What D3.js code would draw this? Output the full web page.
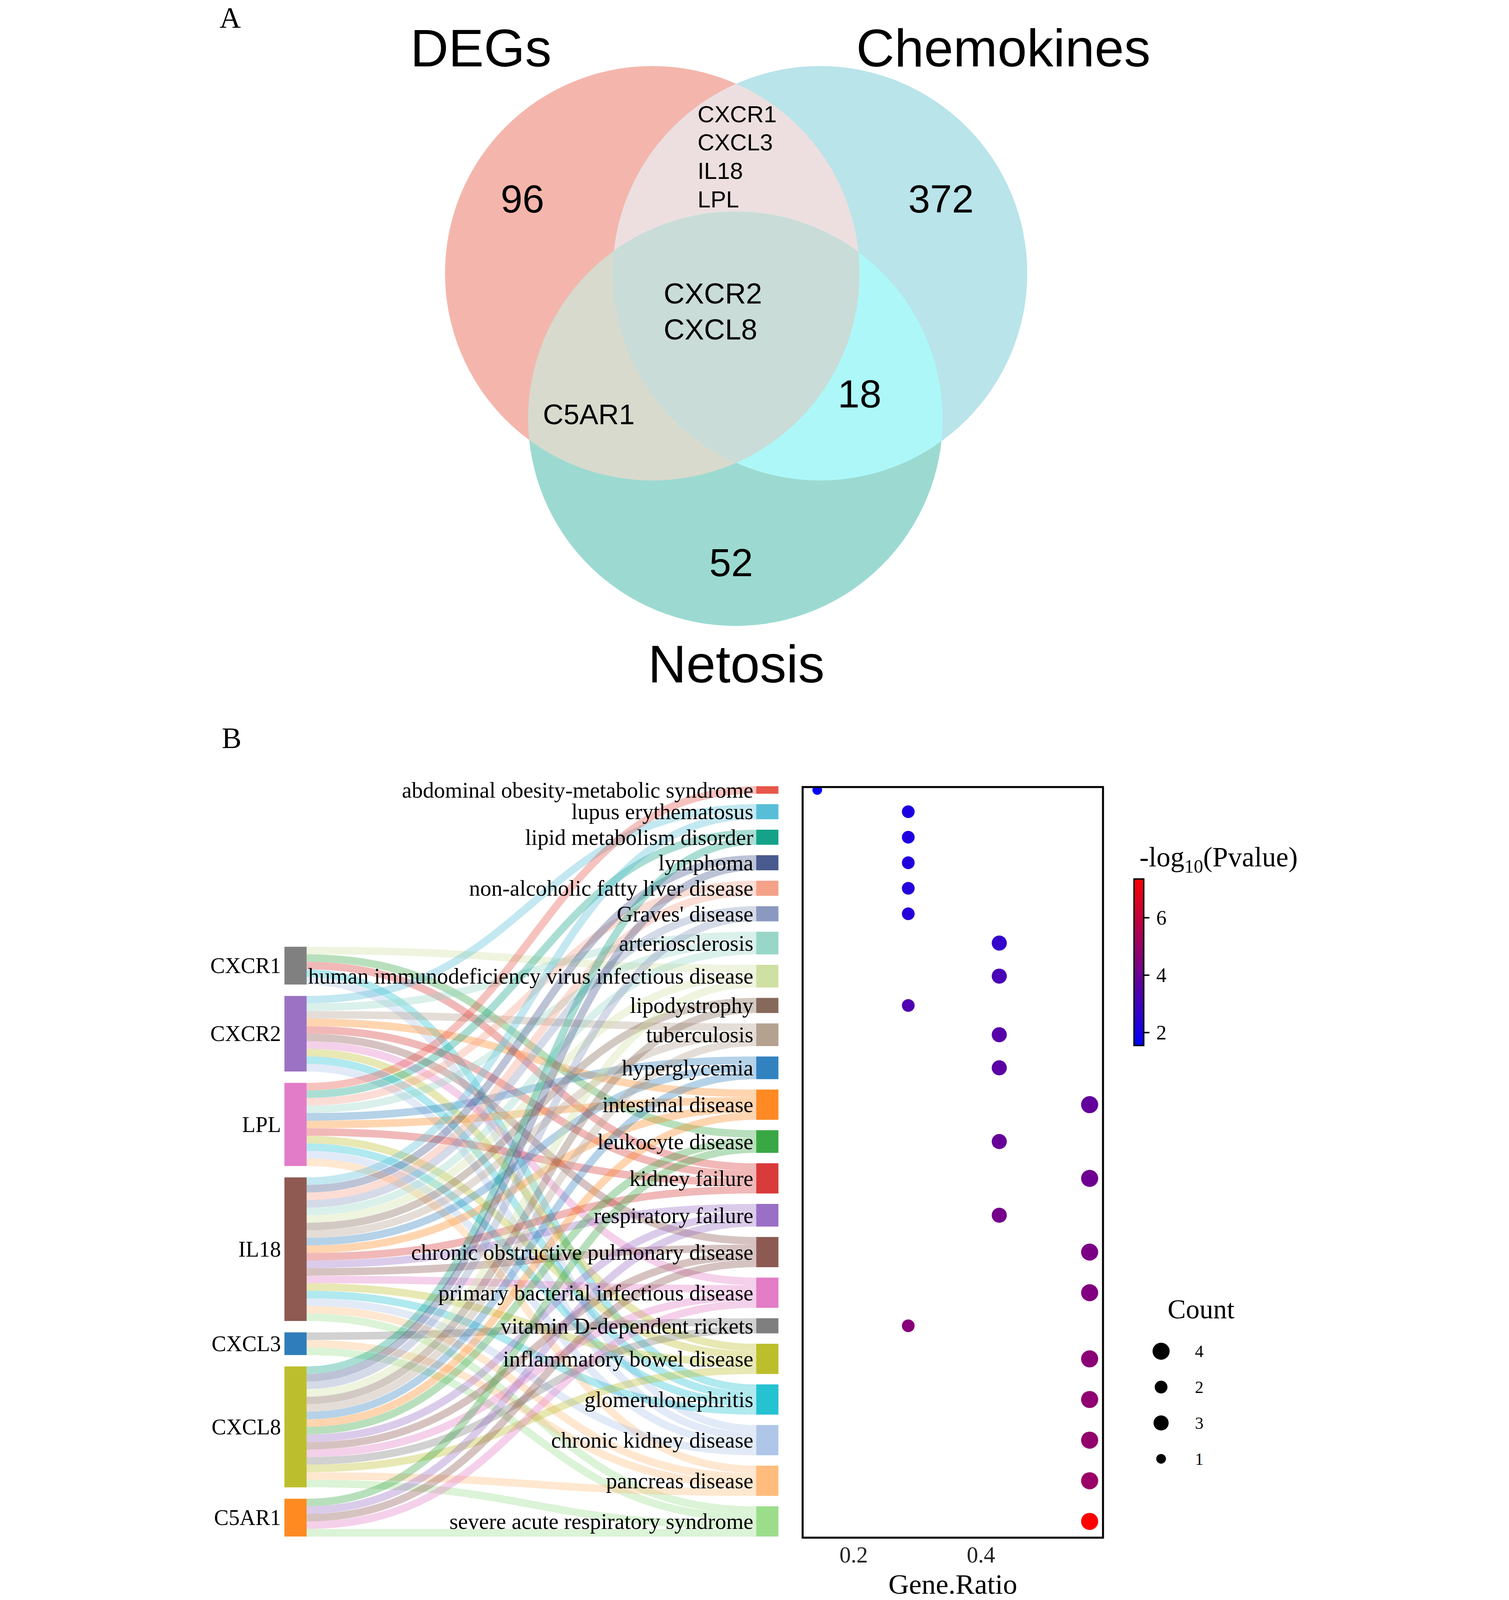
<!DOCTYPE html>
<html>
<head>
<meta charset="utf-8">
<script src="https://cdn.jsdelivr.net/npm/d3@7"></script>
<style>
  html, body { margin: 0; padding: 0; background: #fff; overflow: hidden; }
  svg { display: block; }
</style>
</head>
<body>
<script>
const W = 3862, H = 5621;

// ---------- data: Venn (panel A) ----------
const vennSets = ["DEGs", "Chemokines", "Netosis"];
const vennFill = ["#F4B6AC", "#B9E4EA", "#9CDAD1"];
const pairFill = { degChem: "#EDDFE0", degNet: "#D8DACD", chemNet: "#ADF7F9", all: "#C9DCD7" };
const vennCounts = [96, 372, 18, 52];          // DEGs only, Chemokines only, Chem∩Net, Netosis only
const degChemGenes = ["CXCR1", "CXCL3", "IL18", "LPL"];
const allThreeGenes = ["CXCR2", "CXCL8"];
const degNetGenes = ["C5AR1"];

// ---------- data: Sankey + dot plot (panel B) ----------
const genes = ["CXCR1", "CXCR2", "LPL", "IL18", "CXCL3", "CXCL8", "C5AR1"];
const geneColors = ["#808080", "#9B72C4", "#E37CC8", "#8E5A52", "#2F7DBB", "#BDBE2E", "#FF8A22"];

const diseases = [
  "abdominal obesity-metabolic syndrome", "lupus erythematosus", "lipid metabolism disorder",
  "lymphoma", "non-alcoholic fatty liver disease", "Graves' disease", "arteriosclerosis",
  "human immunodeficiency virus infectious disease", "lipodystrophy", "tuberculosis",
  "hyperglycemia", "intestinal disease", "leukocyte disease", "kidney failure",
  "respiratory failure", "chronic obstructive pulmonary disease",
  "primary bacterial infectious disease", "vitamin D-dependent rickets",
  "inflammatory bowel disease", "glomerulonephritis", "chronic kidney disease",
  "pancreas disease", "severe acute respiratory syndrome"
];
const diseaseColors = [
  "#E6574A", "#58BED8", "#14A389", "#485A8E", "#F4A18A", "#8B99C0", "#98D6C7",
  "#CFE0A3", "#86695A", "#B5A18F", "#3382C0", "#FF8A24", "#39A744", "#D93A3A",
  "#9A6FC6", "#8C5A52", "#E27DC6", "#7F7F7F", "#BDBE2C", "#25C2D2", "#AFC6E8",
  "#FFBC7C", "#9CDD8C"
];
const geneCount = [1, 2, 2, 2, 2, 2, 3, 3, 2, 3, 3, 4, 3, 4, 3, 4, 4, 2, 4, 4, 4, 4, 4];
const geneRatio = [0.143, 0.286, 0.286, 0.286, 0.286, 0.286, 0.429, 0.429, 0.286, 0.429, 0.429,
  0.571, 0.429, 0.571, 0.429, 0.571, 0.571, 0.286, 0.571, 0.571, 0.571, 0.571, 0.571];
const negLogP = [1.55, 2.2, 2.25, 2.3, 2.35, 2.4, 2.7, 3.2, 3.35, 3.5, 3.6, 3.8, 3.9, 4.05,
  4.2, 4.35, 4.45, 4.6, 4.7, 4.8, 4.9, 5.05, 7.35];

// diseases reached by each gene (same order as genes)
const geneDiseases = [
  ["human immunodeficiency virus infectious disease", "leukocyte disease", "kidney failure",
   "glomerulonephritis", "chronic kidney disease"],
  ["lupus erythematosus", "arteriosclerosis", "tuberculosis", "intestinal disease", "kidney failure",
   "chronic obstructive pulmonary disease", "primary bacterial infectious disease",
   "inflammatory bowel disease", "glomerulonephritis", "chronic kidney disease"],
  ["abdominal obesity-metabolic syndrome", "lipid metabolism disorder", "non-alcoholic fatty liver disease",
   "arteriosclerosis", "hyperglycemia", "intestinal disease", "kidney failure",
   "inflammatory bowel disease", "glomerulonephritis", "chronic kidney disease", "pancreas disease"],
  ["lupus erythematosus", "lymphoma", "non-alcoholic fatty liver disease", "Graves' disease",
   "arteriosclerosis", "human immunodeficiency virus infectious disease", "lipodystrophy",
   "tuberculosis", "hyperglycemia", "intestinal disease", "kidney failure", "respiratory failure",
   "chronic obstructive pulmonary disease", "primary bacterial infectious disease",
   "inflammatory bowel disease", "glomerulonephritis", "chronic kidney disease",
   "pancreas disease", "severe acute respiratory syndrome"],
  ["vitamin D-dependent rickets", "pancreas disease", "severe acute respiratory syndrome"],
  ["lipid metabolism disorder", "lymphoma", "Graves' disease",
   "human immunodeficiency virus infectious disease", "lipodystrophy", "tuberculosis",
   "hyperglycemia", "intestinal disease", "leukocyte disease", "respiratory failure",
   "chronic obstructive pulmonary disease", "primary bacterial infectious disease",
   "vitamin D-dependent rickets", "inflammatory bowel disease", "pancreas disease",
   "severe acute respiratory syndrome"],
  ["leukocyte disease", "respiratory failure", "chronic obstructive pulmonary disease",
   "primary bacterial infectious disease", "severe acute respiratory syndrome"]
];

const countLegend = [4, 2, 3, 1];
const colorTicks = [2, 4, 6];
const xTicks = [0.2, 0.4];

const serif = "'Liberation Serif', 'Times New Roman', serif";
const sans = "'Liberation Sans', Arial, sans-serif";

// the drawing is laid out in a 3862 x 5621 space and fitted to the window
let vw = window.innerWidth || W, vh = window.innerHeight || H;
let svg = d3.select('body').append('svg')
    .attr('width', vw)
    .attr('height', vh)
    .attr('viewBox', '0 0 ' + W + ' ' + H)
    .attr('preserveAspectRatio', 'xMidYMin meet');
svg.append('rect').attr('width', W).attr('height', H).attr('fill', '#fff');
let defs = svg.append('defs');

// panel letters
svg.append('text').attr('x', 52).attr('y', 98).attr('font-family', serif)
    .attr('font-size', 104).text('A');
svg.append('text').attr('x', 60).attr('y', 2628).attr('font-family', serif)
    .attr('font-size', 104).text('B');

// ================= Venn =================
const vennR = 728;
const vennCenters = [[1572, 960], [2161, 960], [1864, 1471]];

vennCenters.forEach((c, i) => {
    defs.append('clipPath').attr('id', 'vc' + i)
        .append('circle').attr('cx', c[0]).attr('cy', c[1]).attr('r', vennR);
});

let venn = svg.append('g');
vennCenters.forEach((c, i) => {
    venn.append('circle').attr('cx', c[0]).attr('cy', c[1]).attr('r', vennR)
        .attr('fill', vennFill[i]);
});

function clipped(parent, ids) {
    let g = parent;
    ids.forEach(id => { g = g.append('g').attr('clip-path', 'url(#' + id + ')'); });
    return g;
}
function vennCircle(g, i, fill) {
    g.append('circle').attr('cx', vennCenters[i][0]).attr('cy', vennCenters[i][1])
        .attr('r', vennR).attr('fill', fill);
}
vennCircle(clipped(venn, ['vc0']), 1, pairFill.degChem);
vennCircle(clipped(venn, ['vc0']), 2, pairFill.degNet);
vennCircle(clipped(venn, ['vc1']), 2, pairFill.chemNet);
vennCircle(clipped(venn, ['vc0', 'vc1']), 2, pairFill.all);

const setTitlePos = [[970, 233], [2805, 233], [1867, 2397]];
vennSets.forEach((s, i) => {
    venn.append('text').attr('x', setTitlePos[i][0]).attr('y', setTitlePos[i][1])
        .attr('text-anchor', 'middle').attr('font-family', sans).attr('font-size', 186)
        .text(s);
});

const countPos = [[1116, 747], [2586, 747], [2300, 1432], [1849, 2024]];
vennCounts.forEach((v, i) => {
    venn.append('text').attr('x', countPos[i][0]).attr('y', countPos[i][1])
        .attr('text-anchor', 'middle').attr('font-family', sans).attr('font-size', 138)
        .text(v);
});

degChemGenes.forEach((g, i) => {
    venn.append('text').attr('x', 1731).attr('y', 429 + i * 100)
        .attr('font-family', sans).attr('font-size', 82).text(g);
});
allThreeGenes.forEach((g, i) => {
    venn.append('text').attr('x', 1612).attr('y', 1066 + i * 126)
        .attr('font-family', sans).attr('font-size', 102).text(g);
});
degNetGenes.forEach((g, i) => {
    venn.append('text').attr('x', 1188).attr('y', 1490 + i * 126)
        .attr('font-family', sans).attr('font-size', 100).text(g);
});

// ================= Sankey =================
const unit = 26.55;            // px per gene-disease link
const sankeyBottom = 5398;
const rightTop = 2762;
const leftGap = 40;
const leftX = [280, 358], rightX = [1937, 2015];

const totalLinks = d3.sum(geneCount);
const uScale = d3.scaleLinear().domain([0, totalLinks]).range([0, totalLinks * unit]);
const rightGap = (sankeyBottom - rightTop - uScale(totalLinks)) / (diseases.length - 1);
const leftTop = sankeyBottom - uScale(totalLinks) - leftGap * (genes.length - 1);

let geneNodes = [], disNodes = [];
let cum = 0;
genes.forEach((g, i) => {
    let n = geneDiseases[i].length;
    let y0 = leftTop + uScale(cum) + leftGap * i;
    geneNodes.push({ name: g, y0: y0, y1: y0 + uScale(n) });
    cum += n;
});
cum = 0;
diseases.forEach((d, i) => {
    let y0 = rightTop + uScale(cum) + rightGap * i;
    disNodes.push({ name: d, y0: y0, y1: y0 + uScale(geneCount[i]) });
    cum += geneCount[i];
});

// links, ordered by target at source and by source at target
let links = [];
genes.forEach((g, i) => {
    geneDiseases[i].forEach(d => links.push({ s: i, t: diseases.indexOf(d) }));
});
genes.forEach((g, i) => {
    links.filter(l => l.s == i).sort((a, b) => a.t - b.t)
        .forEach((l, k) => { l.sy = geneNodes[i].y0 + uScale(k + 0.5); });
});
diseases.forEach((d, j) => {
    links.filter(l => l.t == j).sort((a, b) => a.s - b.s)
        .forEach((l, k) => { l.ty = disNodes[j].y0 + uScale(k + 0.5); });
});

const linkGen = d3.linkHorizontal();
let linkG = svg.append('g').attr('fill', 'none');
links.forEach(l => {
    linkG.append('path')
        .attr('d', linkGen({ source: [leftX[1], l.sy], target: [rightX[0], l.ty] }))
        .attr('stroke', diseaseColors[l.t])
        .attr('stroke-opacity', 0.36)
        .attr('stroke-width', unit);
});

geneNodes.forEach((n, i) => {
    svg.append('rect').attr('x', leftX[0]).attr('y', n.y0)
        .attr('width', leftX[1] - leftX[0]).attr('height', n.y1 - n.y0)
        .attr('fill', geneColors[i]);
    svg.append('text').attr('x', leftX[0] - 12).attr('y', (n.y0 + n.y1) / 2)
        .attr('text-anchor', 'end').attr('dominant-baseline', 'central')
        .attr('font-family', serif).attr('font-size', 77).text(n.name);
});
disNodes.forEach((n, i) => {
    svg.append('rect').attr('x', rightX[0]).attr('y', n.y0)
        .attr('width', rightX[1] - rightX[0]).attr('height', n.y1 - n.y0)
        .attr('fill', diseaseColors[i]);
    svg.append('text').attr('x', rightX[0] - 10).attr('y', (n.y0 + n.y1) / 2)
        .attr('text-anchor', 'end').attr('dominant-baseline', 'central')
        .attr('font-family', serif).attr('font-size', 78).text(n.name);
});

// ================= Dot plot =================
const frame = { x0: 2100, x1: 3155, y0: 2765, y1: 5402 };
const xScale = d3.scaleLinear().domain([0.12, 0.592]).range([frame.x0, frame.x1]);
const cScale = d3.scaleLinear().domain([1.55, 7.35]).range(["#0000ff", "#ff0000"])
    .interpolate(d3.interpolateRgb);
const rScale = d3.scaleSqrt().domain([1, 4]).range([17, 30]);

defs.append('clipPath').attr('id', 'frameClip')
    .append('rect').attr('x', frame.x0).attr('y', frame.y0)
    .attr('width', frame.x1 - frame.x0).attr('height', frame.y1 - frame.y0);

let dots = svg.append('g').attr('clip-path', 'url(#frameClip)');
diseases.forEach((d, i) => {
    dots.append('circle')
        .attr('cx', xScale(geneRatio[i]))
        .attr('cy', (disNodes[i].y0 + disNodes[i].y1) / 2)
        .attr('r', rScale(geneCount[i]))
        .attr('fill', cScale(negLogP[i]));
});

svg.append('rect').attr('x', frame.x0).attr('y', frame.y0)
    .attr('width', frame.x1 - frame.x0).attr('height', frame.y1 - frame.y0)
    .attr('fill', 'none').attr('stroke', '#000').attr('stroke-width', 7);

let xAxis = svg.append('g').attr('transform', 'translate(0,' + frame.y1 + ')')
    .call(d3.axisBottom(xScale).tickValues(xTicks).tickSize(0).tickPadding(30)
        .tickFormat(d3.format('.1f')));
xAxis.select('.domain').remove();
xAxis.selectAll('text').attr('font-family', serif).attr('font-size', 80).attr('fill', '#222');

svg.append('text').attr('x', (frame.x0 + frame.x1) / 2).attr('y', 5599)
    .attr('text-anchor', 'middle').attr('font-family', serif).attr('font-size', 100)
    .text('Gene.Ratio');

// colour bar
const bar = { x: 3264, w: 34, y0: 3088, y1: 3673 };
const barScale = d3.scaleLinear().domain(cScale.domain()).range([bar.y1, bar.y0]);
let grad = defs.append('linearGradient').attr('id', 'pgrad')
    .attr('x1', 0).attr('y1', 1).attr('x2', 0).attr('y2', 0);
d3.range(0, 1.01, 0.1).forEach(t => {
    let v = cScale.domain()[0] + t * (cScale.domain()[1] - cScale.domain()[0]);
    grad.append('stop').attr('offset', t).attr('stop-color', cScale(v));
});
svg.append('rect').attr('x', bar.x).attr('y', bar.y0).attr('width', bar.w)
    .attr('height', bar.y1 - bar.y0).attr('fill', 'url(#pgrad)')
    .attr('stroke', '#000').attr('stroke-width', 5);
colorTicks.forEach(t => {
    svg.append('line').attr('x1', bar.x + bar.w).attr('x2', bar.x + bar.w + 20)
        .attr('y1', barScale(t)).attr('y2', barScale(t))
        .attr('stroke', '#000').attr('stroke-width', 5);
    svg.append('text').attr('x', bar.x + bar.w + 44).attr('y', barScale(t))
        .attr('dominant-baseline', 'central').attr('font-family', serif)
        .attr('font-size', 72).text(t);
});
let ttl = svg.append('text').attr('x', 3283).attr('y', 3044)
    .attr('font-family', serif).attr('font-size', 98);
ttl.append('tspan').text('-log');
ttl.append('tspan').attr('font-size', 66).attr('dy', 22).text('10');
ttl.append('tspan').attr('dy', -22).text('(Pvalue)');

// size legend
svg.append('text').attr('x', 3382).attr('y', 4632)
    .attr('font-family', serif).attr('font-size', 96).text('Count');
countLegend.forEach((c, i) => {
    let cy = 4747 + i * 126;
    svg.append('circle').attr('cx', 3359).attr('cy', cy).attr('r', rScale(c)).attr('fill', '#000');
    svg.append('text').attr('x', 3478).attr('y', cy).attr('dominant-baseline', 'central')
        .attr('font-family', serif).attr('font-size', 60).text(c);
});
</script>
</body>
</html>
